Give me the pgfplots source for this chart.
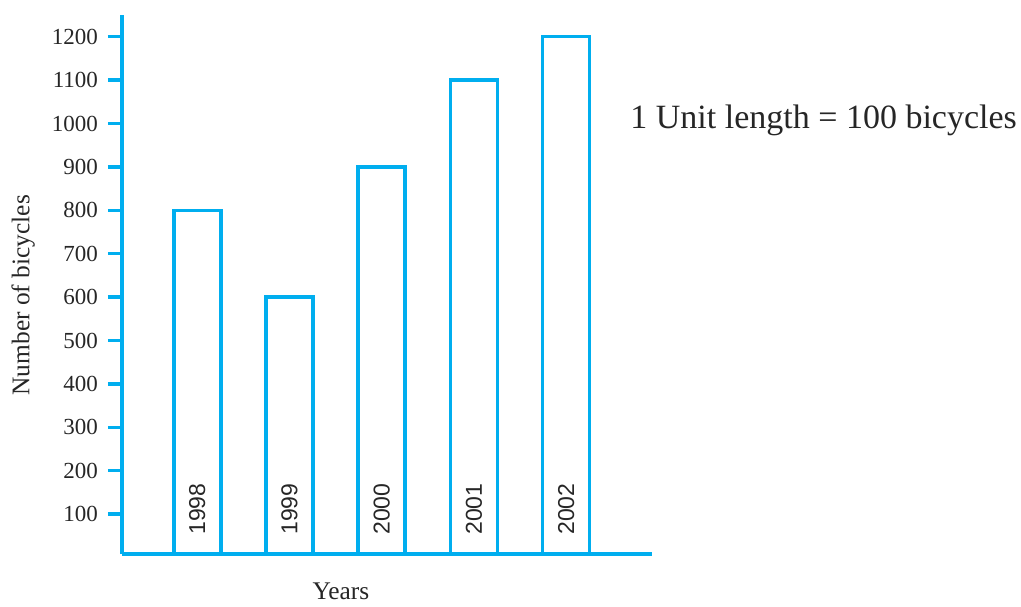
\documentclass[border=0pt]{standalone}
\usepackage{fontspec}
\setmainfont{Liberation Serif}
\setsansfont{Liberation Sans}
\usepackage{pgfplots}
\pgfplotsset{compat=1.18}
\definecolor{barcyan}{RGB}{0,174,239}
\begin{document}
\begin{tikzpicture}
\begin{axis}[
  scale only axis,
  width=264.85pt, height=269.5pt,
  xmin=0.183, xmax=5.928,
  ymin=8, ymax=1250,
  axis lines=left,
  axis line style={-, barcyan, line width=2pt},
  axis on top,
  clip mode=individual,
  ytick={100,200,...,1200},
  tick align=outside,
  major tick length=7pt,
  ytick style={barcyan, line width=1.75pt},
  xtick={1,2,3,4,5},
  xticklabels={1998,1999,2000,2001,2002},
  xtick style={draw=none},
  xticklabel style={rotate=90, anchor=west, inner sep=0pt, font=\sffamily\fontsize{11.5}{13}\selectfont, text=black!85},
  xticklabel shift=-16.5pt,
  yticklabel style={font=\fontsize{11.5}{13}\selectfont, text=black!85, xshift=-1.5pt},
  /pgf/number format/assume math mode=true,
  /pgf/number format/set thousands separator={},
  ylabel={Number of bicycles},
  ylabel style={at={(axis description cs:-0.151,0.48)}, anchor=south, font=\fontsize{12.7}{14}\selectfont, text=black!85},
  xlabel={Years},
  xlabel style={at={(axis description cs:0.4134,-0.0853)}, anchor=base, font=\fontsize{12.7}{14}\selectfont, text=black!85},
]
\addplot[ybar, bar width=23.5pt, draw=barcyan, line width=1.75pt, fill=white]
  coordinates {(1,800) (2,600) (3,900) (4,1100) (5,1200)};
\node[anchor=base west, inner sep=0pt, font=\fontsize{17}{20}\selectfont, text=black!85]
  at (axis description cs:0.959,0.790) {1 Unit length = 100 bicycles};
\end{axis}
\pgfresetboundingbox
\useasboundingbox (-61pt,-26pt) rectangle (449.5pt,277pt);
\end{tikzpicture}
\end{document}
